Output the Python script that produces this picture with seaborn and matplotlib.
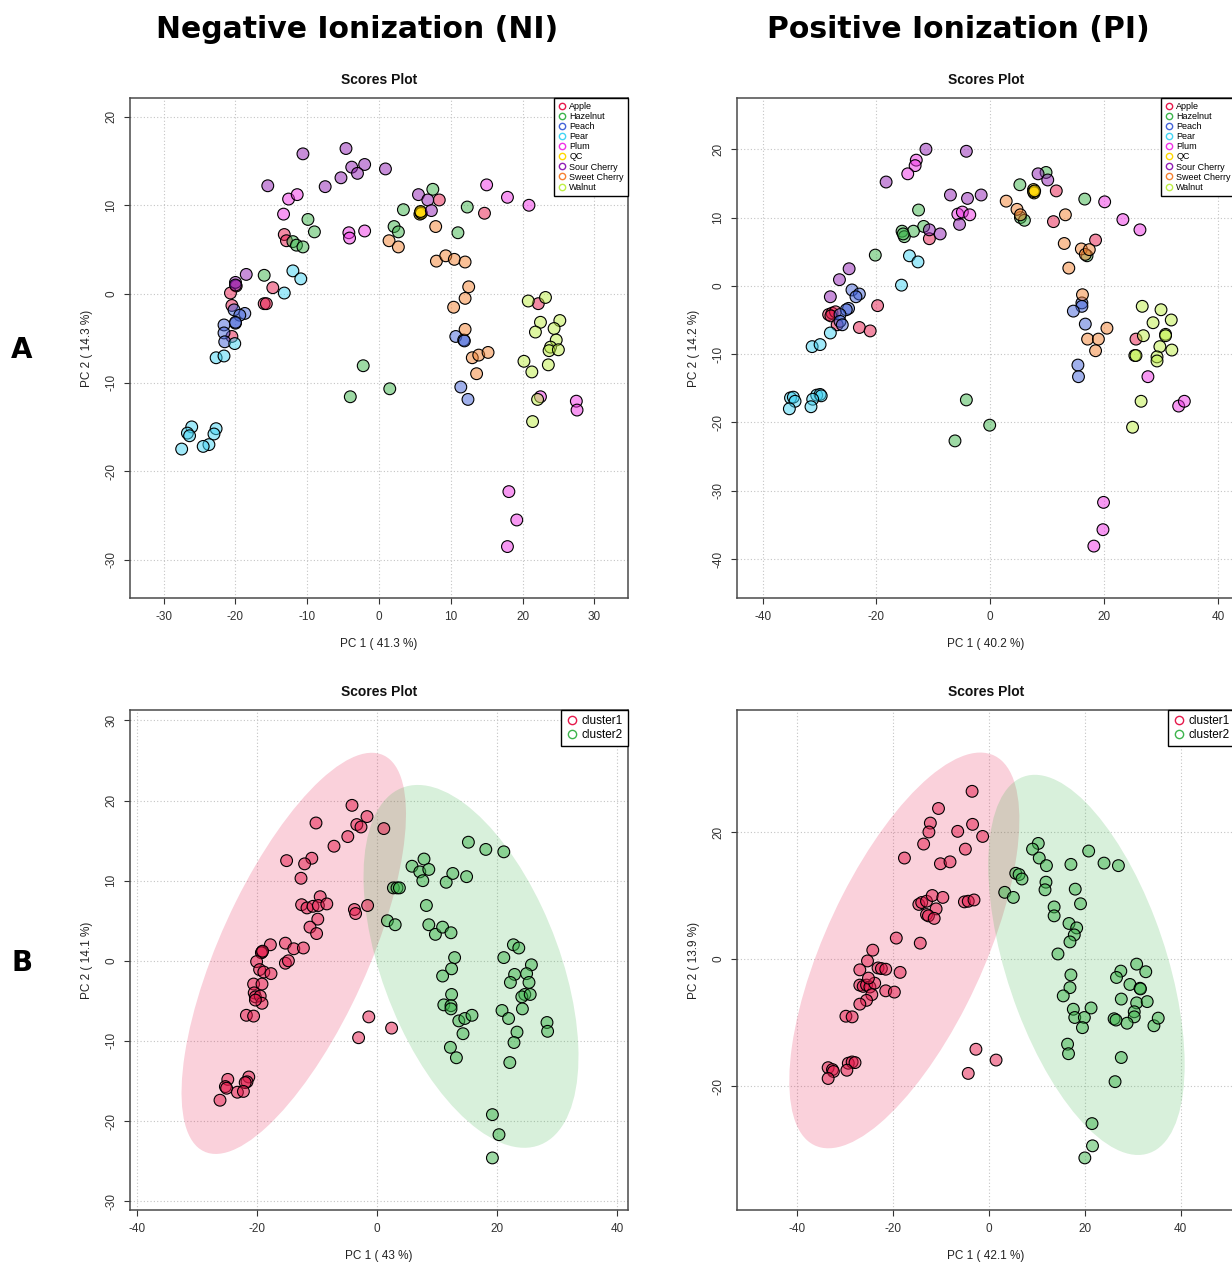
import numpy as np
import pandas as pd
import seaborn as sns
import matplotlib.pyplot as plt
from matplotlib.patches import Ellipse
from matplotlib.lines import Line2D

sns.set_theme(style="white")
plt.rcParams["font.family"] = ["Liberation Sans", "DejaVu Sans"]
plt.rcParams["axes.unicode_minus"] = False
plt.rcParams["text.color"] = "black"
plt.rcParams["axes.labelcolor"] = "black"

# ---- group names / colours ----
groups = ["Apple", "Hazelnut", "Peach", "Pear", "Plum", "QC",
          "Sour Cherry", "Sweet Cherry", "Walnut"]
group_colors = ["#E6194B", "#3CB44B", "#4363D8", "#42D4F4", "#F032E6",
                "#FFD700", "#911EB4", "#F58231", "#BFEF45"]
clusters = ["cluster1", "cluster2"]
cluster_colors = ["#E6194B", "#3CB44B"]

# ---- Negative ionization, panel A (PC1 / PC2 scores per group) ----
ni_apple = [(8.4, 10.6), (14.7, 9.1), (-13.2, 6.7), (-12.9, 6.0), (-14.8, 0.7), (-19.9, 0.9),
            (-20.7, 0.1), (-16.0, -1.1), (-15.7, -1.1), (-20.5, -1.3), (-20.5, -4.8), (22.2, -1.1)]
ni_hazelnut = [(7.5, 11.8), (3.4, 9.5), (12.3, 9.8), (-9.9, 8.4), (-9.0, 7.0), (2.1, 7.6), (2.7, 7.0),
               (11.0, 6.9), (-12.0, 5.9), (-11.5, 5.5), (-10.6, 5.3), (-16.0, 2.1), (-2.2, -8.1),
               (1.5, -10.7), (-4.0, -11.6)]
ni_peach = [(-21.6, -3.5), (-20.2, -1.8), (-18.7, -2.2), (-19.4, -2.4), (-20.0, -3.3), (-20.0, -3.2),
            (-21.6, -4.4), (-21.5, -5.4), (10.7, -4.8), (11.8, -5.2), (11.9, -5.3), (11.4, -10.5),
            (12.4, -11.9)]
ni_pear = [(-12.0, 2.6), (-10.9, 1.7), (-13.2, 0.1), (-20.1, -5.6), (-22.7, -7.2), (-21.6, -7.0),
           (-26.1, -15.0), (-26.7, -15.7), (-26.4, -16.0), (-22.7, -15.2), (-23.0, -15.8),
           (-23.7, -17.0), (-24.5, -17.2), (-27.5, -17.5)]
ni_plum = [(-12.6, 10.7), (-11.4, 11.2), (-13.3, 9.0), (-4.2, 6.9), (-4.1, 6.3), (-2.0, 7.1),
           (15.0, 12.3), (17.9, 10.9), (20.9, 10.0), (18.1, -22.3), (19.2, -25.5), (17.9, -28.5),
           (27.5, -12.1), (27.6, -13.1), (22.5, -11.6)]
ni_qc = [(5.7, 9.0), (5.8, 9.2), (5.9, 9.1), (5.8, 9.3)]
ni_sour = [(-10.6, 15.8), (-4.6, 16.4), (-3.8, 14.3), (-2.0, 14.6), (-3.0, 13.6), (0.9, 14.1),
           (-15.5, 12.2), (-7.5, 12.1), (-5.3, 13.1), (5.5, 11.2), (6.8, 10.6), (7.3, 9.4),
           (-18.5, 2.2), (-20.0, 1.3), (-20.0, 1.0)]
ni_sweet = [(7.9, 7.6), (1.4, 6.0), (2.7, 5.3), (8.0, 3.7), (9.3, 4.3), (10.5, 3.9), (12.0, 3.6),
            (12.5, 0.8), (12.0, -0.5), (10.4, -1.5), (12.0, -4.0), (13.0, -7.2), (13.9, -6.9),
            (15.2, -6.6), (13.6, -9.0)]
ni_walnut = [(20.8, -0.8), (23.2, -0.4), (22.5, -3.2), (25.2, -3.0), (21.8, -4.3), (24.4, -3.9),
             (24.7, -5.2), (23.9, -6.0), (23.7, -6.4), (25.0, -6.3), (20.2, -7.6), (21.3, -8.8),
             (23.6, -8.0), (22.1, -11.9), (21.4, -14.4)]

# ---- Positive ionization, panel A ----
pi_apple = [(11.6, 13.9), (11.1, 9.4), (18.5, 6.7), (-10.7, 6.9), (-19.8, -2.9), (-28.4, -4.2),
            (-27.8, -4.0), (-27.2, -3.8), (-28.0, -4.4), (-26.9, -5.7), (-23.0, -6.1), (-21.1, -6.6),
            (25.6, -7.8)]
pi_hazelnut = [(9.8, 16.6), (5.2, 14.8), (16.6, 12.7), (-12.6, 11.1), (5.3, 10.0), (6.0, 9.6),
               (-11.7, 8.7), (-13.5, 8.0), (-15.5, 8.0), (-15.1, 7.2), (-15.3, 7.6), (-20.2, 4.5),
               (17.0, 4.4), (-4.2, -16.7), (-0.1, -20.4), (-6.2, -22.7)]
pi_peach = [(-24.3, -0.6), (-23.0, -1.2), (-23.6, -1.6), (-24.9, -3.3), (-25.3, -3.5), (-26.4, -4.2),
            (-26.4, -5.2), (-26.0, -5.7), (16.1, -2.5), (16.1, -3.0), (14.6, -3.7), (16.7, -5.6),
            (15.4, -11.6), (15.5, -13.3)]
pi_pear = [(-14.2, 4.4), (-12.7, 3.5), (-15.6, 0.1), (-28.1, -6.9), (-31.3, -8.9), (-29.9, -8.6),
           (-35.1, -16.4), (-34.6, -16.3), (-34.3, -16.9), (-35.3, -18.0), (-30.5, -16.0),
           (-29.9, -15.9), (-29.7, -16.1), (-31.2, -16.6), (-31.5, -17.7)]
pi_plum = [(-13.0, 18.4), (-13.2, 17.6), (-14.5, 16.4), (-5.7, 10.5), (-4.9, 10.8), (-3.6, 10.4),
           (20.1, 12.3), (23.3, 9.7), (26.3, 8.2), (27.7, -13.3), (33.1, -17.6), (34.1, -16.9),
           (19.9, -31.7), (19.8, -35.7), (18.2, -38.1)]
pi_qc = [(7.6, 14.1), (7.7, 13.6), (7.6, 13.8), (7.8, 13.9)]
pi_sour = [(-11.3, 20.0), (-4.2, 19.7), (-18.3, 15.2), (-7.0, 13.3), (-4.0, 12.8), (-1.6, 13.3),
           (-5.4, 9.0), (-10.7, 8.2), (-8.8, 7.6), (8.4, 16.4), (10.1, 15.5), (-24.8, 2.5),
           (-26.5, 0.9), (-28.1, -1.6)]
pi_sweet = [(2.8, 12.4), (4.7, 11.2), (5.3, 10.4), (13.2, 10.4), (13.0, 6.2), (16.0, 5.4), (16.7, 4.6),
            (17.4, 5.3), (13.8, 2.6), (16.2, -1.3), (20.5, -6.2), (17.1, -7.8), (19.0, -7.8),
            (18.5, -9.5)]
pi_walnut = [(26.7, -3.0), (30.0, -3.5), (31.8, -5.0), (28.6, -5.4), (26.9, -7.3), (30.8, -7.1),
             (30.8, -7.3), (29.8, -8.9), (31.9, -9.4), (25.4, -10.2), (25.6, -10.2), (29.3, -10.4),
             (29.3, -11.0), (26.5, -16.9), (25.0, -20.7)]

# ---- Negative ionization, panel B (k-means clusters) ----
ni_cluster1 = [(-4.2, 19.4), (-1.7, 18.0), (-3.4, 17.0), (-2.7, 16.7), (1.1, 16.5), (-10.2, 17.2),
               (-4.9, 15.5), (-7.2, 14.3), (-15.1, 12.5), (-10.9, 12.8), (-12.1, 12.1), (-12.7, 10.3),
               (-9.5, 8.0), (-12.6, 7.0), (-11.7, 6.6), (-10.7, 6.8), (-9.8, 6.9), (-8.4, 7.1),
               (-3.8, 6.4), (-3.6, 5.9), (-1.6, 6.9), (-9.9, 5.2), (-11.2, 4.2), (-10.1, 3.4),
               (-15.3, 2.2), (-13.9, 1.5), (-12.3, 1.6), (-17.8, 2.0), (-19.2, 1.1), (-19.3, 1.0),
               (-19.1, 1.2), (-15.3, -0.3), (-14.8, 0.0), (-20.1, -0.1), (-19.6, -1.1), (-18.9, -1.4),
               (-17.7, -1.6), (-20.6, -2.9), (-19.2, -2.9), (-20.5, -4.0), (-20.3, -4.5), (-19.5, -4.4),
               (-19.2, -5.3), (-20.3, -4.9), (-21.8, -6.8), (-20.6, -6.9), (-1.4, -7.0), (2.4, -8.4),
               (-3.1, -9.6), (-24.9, -14.8), (-25.3, -15.7), (-25.1, -15.9), (-21.4, -14.5),
               (-21.7, -15.1), (-22.0, -15.2), (-23.3, -16.4), (-22.3, -16.3), (-26.2, -17.4)]
ni_cluster2 = [(15.2, 14.8), (18.1, 13.9), (21.1, 13.6), (5.8, 11.8), (7.8, 12.7), (7.1, 11.1),
               (8.6, 11.4), (7.6, 10.0), (11.5, 9.8), (12.6, 10.9), (14.9, 10.5), (2.7, 9.1), (3.3, 9.1),
               (3.7, 9.1), (8.2, 6.9), (1.7, 5.0), (3.0, 4.5), (8.6, 4.5), (9.7, 3.3), (10.9, 4.2),
               (12.3, 3.5), (22.7, 2.0), (23.6, 1.6), (21.1, 0.4), (12.9, 0.4), (12.4, -1.0),
               (10.9, -1.9), (25.7, -0.5), (22.9, -1.7), (24.9, -1.6), (22.2, -2.7), (25.3, -2.7),
               (24.6, -4.2), (24.1, -4.5), (25.5, -4.2), (24.2, -6.0), (12.4, -4.2), (11.1, -5.5),
               (12.3, -5.6), (12.3, -6.0), (20.8, -6.2), (21.9, -7.2), (13.6, -7.5), (14.6, -7.2),
               (15.8, -6.8), (14.3, -9.1), (23.3, -8.9), (22.8, -10.2), (28.3, -7.7), (28.4, -8.8),
               (12.2, -10.8), (13.2, -12.1), (22.1, -12.7), (19.2, -19.2), (20.3, -21.7), (19.2, -24.6)]

# ---- Positive ionization, panel B ----
pi_cluster1 = [(-3.5, 26.4), (-10.5, 23.7), (-12.2, 21.4), (-12.5, 20.0), (-6.5, 20.1), (-3.4, 21.2),
               (-1.3, 19.3), (-13.6, 18.1), (-4.9, 17.3), (-17.6, 15.9), (-10.1, 15.0), (-8.1, 15.3),
               (-14.6, 8.6), (-14.0, 8.9), (-13.0, 9.1), (-11.8, 10.0), (-9.6, 9.7), (-11.0, 7.9),
               (-13.0, 7.0), (-12.6, 6.8), (-11.4, 6.4), (-5.1, 9.0), (-4.3, 9.1), (-3.1, 9.3),
               (-19.3, 3.3), (-14.3, 2.5), (-24.2, 1.4), (-25.3, -0.3), (-26.9, -1.7), (-23.1, -1.4),
               (-22.4, -1.5), (-21.5, -1.6), (-18.5, -2.1), (-26.9, -4.1), (-26.2, -4.3), (-25.5, -4.1),
               (-24.8, -4.4), (-23.8, -3.8), (-25.1, -3.0), (-24.4, -5.6), (-25.5, -6.5), (-26.9, -7.1),
               (-21.5, -5.0), (-19.7, -5.2), (-29.8, -9.0), (-28.5, -9.1), (-33.5, -17.1),
               (-32.6, -17.4), (-32.4, -17.7), (-33.5, -18.8), (-29.3, -16.4), (-28.5, -16.2),
               (-27.9, -16.3), (-29.6, -17.5), (-2.7, -14.2), (1.5, -15.9), (-4.3, -18.0)]
pi_cluster2 = [(10.3, 18.2), (9.1, 17.3), (10.5, 15.9), (12.0, 14.7), (20.8, 17.0), (24.0, 15.1),
               (27.0, 14.7), (17.1, 14.9), (5.6, 13.5), (6.3, 13.3), (6.9, 12.6), (3.3, 10.5), (5.1, 9.7),
               (11.9, 12.1), (11.7, 10.9), (18.0, 11.0), (19.1, 8.7), (13.6, 8.2), (13.6, 6.8),
               (16.7, 5.6), (18.3, 4.9), (17.8, 3.8), (16.9, 2.7), (14.4, 0.8), (30.8, -0.8),
               (27.5, -1.9), (32.7, -2.0), (26.6, -2.9), (17.1, -2.5), (16.9, -4.5), (15.5, -5.8),
               (17.6, -7.9), (17.9, -9.2), (19.9, -9.2), (19.5, -10.8), (21.3, -7.7), (16.4, -13.4),
               (16.6, -14.9), (29.4, -4.0), (31.5, -4.6), (31.6, -4.7), (27.6, -6.3), (30.8, -6.9),
               (33.0, -6.7), (30.3, -8.3), (30.3, -9.1), (28.8, -10.1), (26.1, -9.4), (26.5, -9.6),
               (34.4, -10.5), (35.3, -9.3), (27.6, -15.5), (26.3, -19.3), (21.5, -25.9), (21.6, -29.4),
               (20.0, -31.3)]


def make_frame(names, point_lists):
    rows = []
    for name, pts in zip(names, point_lists):
        for x, y in pts:
            rows.append({"x": x, "y": y, "group": name})
    return pd.DataFrame(rows)


def add_ellipse(ax, pts, color):
    # 95% confidence ellipse of the cluster scores
    pts = np.asarray(pts)
    mu = pts.mean(axis=0)
    vals, vecs = np.linalg.eigh(np.cov(pts.T))
    order = vals.argsort()[::-1]
    vals, vecs = vals[order], vecs[:, order]
    angle = np.degrees(np.arctan2(vecs[1, 0], vecs[0, 0]))
    k = np.sqrt(5.991)
    ax.add_patch(Ellipse(mu, 2 * k * np.sqrt(vals[0]), 2 * k * np.sqrt(vals[1]), angle=angle,
                         facecolor=color, alpha=0.2, edgecolor="none", zorder=1))


def draw_panel(ax, df, names, colors, xlim, ylim, xticks, yticks, pc1, pc2, legend_size):
    pal = {n: c + "80" for n, c in zip(names, colors)}
    sns.scatterplot(data=df, x="x", y="y", hue="group", hue_order=names, palette=pal,
                    s=72, edgecolor="black", linewidth=0.8, legend=False, ax=ax, zorder=3)
    ax.set_xlim(xlim)
    ax.set_ylim(ylim)
    ax.set_xticks(xticks)
    ax.set_yticks(yticks)
    ax.set_xticklabels([str(t) for t in xticks])
    ax.set_yticklabels([str(t) for t in yticks], rotation=90, va="center")
    ax.grid(True, linestyle=(0, (1, 2)), color="#c4c4c4", linewidth=0.8)
    ax.set_axisbelow(True)
    for sp in ax.spines.values():
        sp.set_color("#4a4a4a")
        sp.set_linewidth(1.1)
    ax.tick_params(direction="out", length=4, width=0.8, colors="#333333",
                   labelsize=8.5, pad=5, bottom=True, left=True)
    ax.set_xlabel(f"PC 1 ( {pc1} %)", fontsize=8.5, labelpad=11, color="#222222")
    ax.set_ylabel(f"PC 2 ( {pc2} %)", fontsize=8.5, labelpad=9, color="#222222")
    ax.set_title("Scores Plot", fontsize=10, fontweight="bold", pad=10, color="#111111")

    handles = [Line2D([], [], marker="o", linestyle="none", markerfacecolor="none",
                      markeredgecolor=c, markersize=legend_size * 0.7, markeredgewidth=1)
               for c in colors]
    leg = ax.legend(handles, names, loc="upper right", borderaxespad=0, fontsize=legend_size,
                    frameon=True, fancybox=False, edgecolor="black", handletextpad=0.3,
                    labelspacing=0.12, borderpad=0.45, handlelength=1.0, framealpha=1)
    leg.get_frame().set_linewidth(1.0)
    leg.set_zorder(5)


fig = plt.figure(figsize=(12.32, 12.67), dpi=100)
W, H = 1232, 1267
aw, ah = 498 / W, 500 / H
ax_ni_a = fig.add_axes([130 / W, 1 - 598 / H, aw, ah])
ax_pi_a = fig.add_axes([737 / W, 1 - 598 / H, aw, ah])
ax_ni_b = fig.add_axes([130 / W, 1 - 1210 / H, aw, ah])
ax_pi_b = fig.add_axes([737 / W, 1 - 1210 / H, aw, ah])

# panel A: groups
df_ni_a = make_frame(groups, [ni_apple, ni_hazelnut, ni_peach, ni_pear, ni_plum, ni_qc,
                              ni_sour, ni_sweet, ni_walnut])
df_pi_a = make_frame(groups, [pi_apple, pi_hazelnut, pi_peach, pi_pear, pi_plum, pi_qc,
                              pi_sour, pi_sweet, pi_walnut])
draw_panel(ax_ni_a, df_ni_a, groups, group_colors, (-34.7, 34.7), (-34.3, 22.1),
           [-30, -20, -10, 0, 10, 20, 30], [-30, -20, -10, 0, 10, 20], "41.3", "14.3", 6.5)
draw_panel(ax_pi_a, df_pi_a, groups, group_colors, (-44.5, 43.0), (-45.7, 27.5),
           [-40, -20, 0, 20, 40], [-40, -30, -20, -10, 0, 10, 20], "40.2", "14.2", 6.5)

# panel B: clusters with ellipses
df_ni_b = make_frame(clusters, [ni_cluster1, ni_cluster2])
df_pi_b = make_frame(clusters, [pi_cluster1, pi_cluster2])
add_ellipse(ax_ni_b, ni_cluster1, cluster_colors[0])
add_ellipse(ax_ni_b, ni_cluster2, cluster_colors[1])
add_ellipse(ax_pi_b, pi_cluster1, cluster_colors[0])
add_ellipse(ax_pi_b, pi_cluster2, cluster_colors[1])
draw_panel(ax_ni_b, df_ni_b, clusters, cluster_colors, (-41.2, 41.8), (-31.1, 31.3),
           [-40, -20, 0, 20, 40], [-30, -20, -10, 0, 10, 20, 30], "43", "14.1", 8.5)
draw_panel(ax_pi_b, df_pi_b, clusters, cluster_colors, (-52.5, 51.3), (-39.5, 39.2),
           [-40, -20, 0, 20, 40], [-20, 0, 20], "42.1", "13.9", 8.5)

fig.text(357 / W, 1 - 30 / H, "Negative Ionization (NI)", ha="center", va="center",
         fontsize=21.5, fontweight="bold", family="DejaVu Sans", color="black")
fig.text(958 / W, 1 - 30 / H, "Positive Ionization (PI)", ha="center", va="center",
         fontsize=21.5, fontweight="bold", family="DejaVu Sans", color="black")
fig.text(22 / W, 1 - 350 / H, "A", ha="center", va="center", fontsize=20,
         fontweight="bold", family="DejaVu Sans", color="black")
fig.text(22 / W, 1 - 963 / H, "B", ha="center", va="center", fontsize=20,
         fontweight="bold", family="DejaVu Sans", color="black")

fig.savefig("out.png", dpi=100)
